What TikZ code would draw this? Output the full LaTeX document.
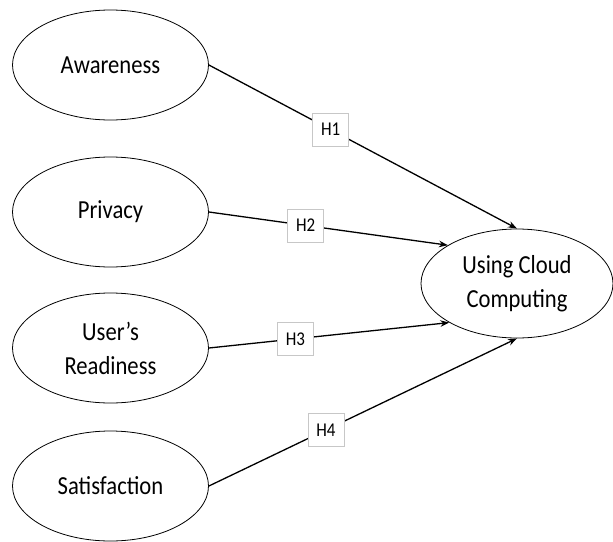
\documentclass[tikz,border=0pt]{standalone}
\usepackage{fontspec}
\setmainfont{Carlito}[FakeStretch=0.87]
\usetikzlibrary{shapes.geometric,arrows.meta}
\begin{document}
\begin{tikzpicture}[x=1pt,y=-1pt,
  construct/.style={ellipse,draw,line width=0.8pt,inner sep=0pt,
    minimum width=196pt,minimum height=110pt,align=center,
    font=\fontsize{26}{34}\selectfont},
  hyp/.style={draw=black!22,fill=white,line width=0.7pt,inner sep=0pt,
    minimum width=36pt,minimum height=33pt,font=\fontsize{19.5}{22}\selectfont},
  path/.style={line width=1.3pt,-{Stealth[length=9pt,width=6.5pt]}}]
\useasboundingbox (0,0) rectangle (613,541);
% exogenous constructs
\node[construct] (aw) at (110.5,65) {Awareness};
\node[construct] (pr) at (110.5,212) {Privacy};
\node[construct] (ur) at (110.5,348) {User’s\\Readiness};
\node[construct] (sa) at (110.5,486) {Satisfaction};
% endogenous construct
\node[construct,minimum width=192pt,minimum height=109pt] (cl) at (517,283.5) {Using Cloud\\Computing};
% hypothesised paths
\draw[path] (aw.east) -- node[hyp,pos=0.395] (h1) {H1} (cl.north);
\draw[path] (pr.east) -- node[hyp,pos=0.405] (h2) {H2} (cl.151);
\draw[path] (ur.east) -- node[hyp,pos=0.36] (h3) {H3} (cl.210);
\draw[path] (sa.east) -- node[hyp,pos=0.38] (h4) {H4} (cl.south);
\end{tikzpicture}
\end{document}
